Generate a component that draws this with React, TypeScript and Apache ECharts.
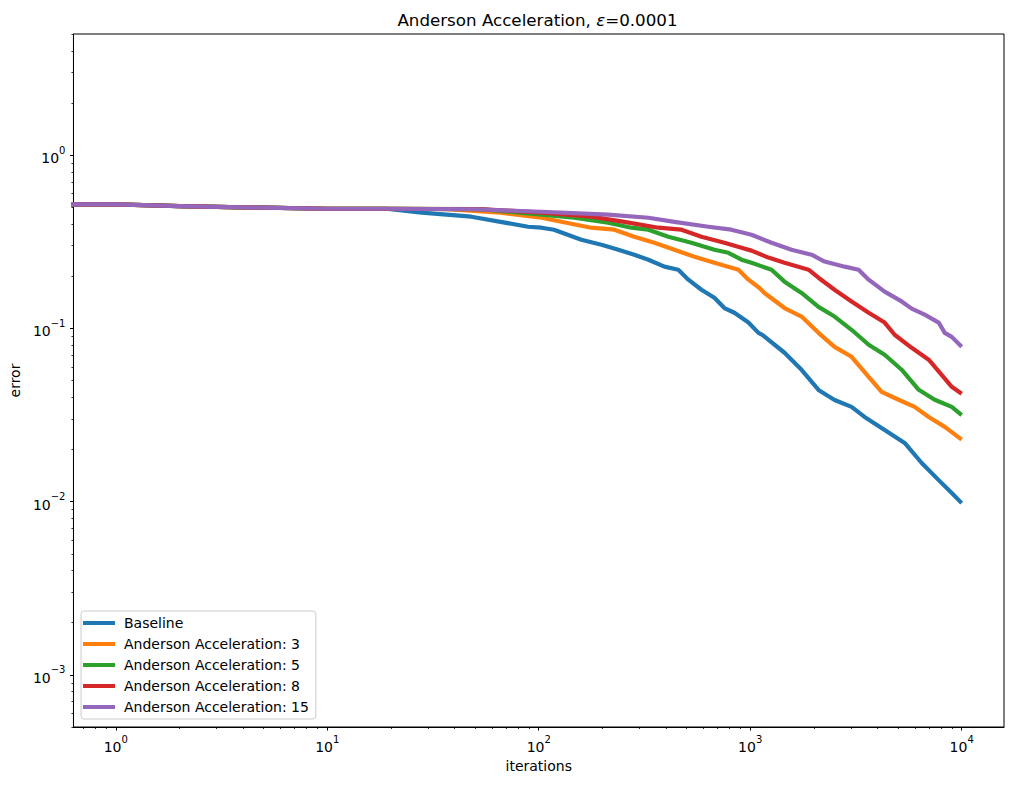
import React, { useEffect, useRef } from "react";
import * as echarts from "echarts";

// ---------- data ----------
const SERIES_NAMES = [
  "Baseline",
  "Anderson Acceleration: 3",
  "Anderson Acceleration: 5",
  "Anderson Acceleration: 8",
  "Anderson Acceleration: 15",
];
const COLORS = ["#1f77b4", "#ff7f0e", "#2ca02c", "#d62728", "#9467bd"];

const trunkIter = [0, 1, 2, 3, 5, 10, 19];
const trunkErr = [0.52, 0.52, 0.508, 0.503, 0.497, 0.49, 0.49];

const baselineIter = [...trunkIter, 28, 48, 66, 89, 103, 118, 159, 198, 238, 283, 330, 393, 457, 510, 588, 677, 755, 842, 981, 1094, 1141, 1453, 1749, 2103, 2505, 3014, 3473, 4321, 5375, 6468, 7784, 8974, 10000];
const baselineErr = [...trunkErr, 0.465, 0.441, 0.412, 0.386, 0.381, 0.371, 0.325, 0.304, 0.284, 0.266, 0.249, 0.227, 0.218, 0.191, 0.167, 0.15, 0.131, 0.123, 0.108, 0.0942, 0.0918, 0.0723, 0.0576, 0.0441, 0.0386, 0.0352, 0.0308, 0.0259, 0.0218, 0.0167, 0.0133, 0.0112, 0.0098];

const aa3Iter = [...trunkIter, 37, 66, 103, 128, 177, 228, 283, 352, 438, 545, 677, 880, 981, 1106, 1168, 1453, 1749, 2103, 2505, 3014, 3631, 4182, 5030, 5993, 6982, 8315, 10000];
const aa3Err = [...trunkErr, 0.488, 0.465, 0.435, 0.412, 0.381, 0.371, 0.338, 0.312, 0.284, 0.259, 0.239, 0.218, 0.191, 0.171, 0.16, 0.131, 0.117, 0.0942, 0.0782, 0.0685, 0.0525, 0.043, 0.0387, 0.0352, 0.0308, 0.027, 0.0228];

const aa5Iter = [...trunkIter, 53, 103, 147, 213, 274, 330, 410, 527, 677, 789, 909, 1014, 1261, 1453, 1749, 2103, 2505, 3014, 3631, 4321, 5200, 6266, 7449, 8974, 10000];
const aa5Err = [...trunkErr, 0.488, 0.453, 0.435, 0.407, 0.381, 0.371, 0.338, 0.312, 0.284, 0.273, 0.249, 0.239, 0.218, 0.186, 0.16, 0.133, 0.117, 0.0981, 0.0804, 0.0704, 0.0577, 0.0442, 0.0387, 0.0352, 0.0316];

const aa8Iter = [...trunkIter, 55, 103, 177, 254, 368, 473, 588, 755, 909, 1014, 1219, 1453, 1888, 2103, 2505, 3014, 3631, 4321, 4818, 5800, 6982, 8040, 8974, 10000];
const aa8Err = [...trunkErr, 0.487, 0.465, 0.441, 0.412, 0.381, 0.371, 0.338, 0.312, 0.292, 0.281, 0.256, 0.239, 0.218, 0.196, 0.167, 0.143, 0.123, 0.108, 0.0918, 0.0772, 0.0659, 0.0539, 0.046, 0.0419];

const aa15Iter = [...trunkIter, 50, 103, 213, 330, 438, 634, 814, 1014, 1261, 1567, 1950, 2248, 2797, 3255, 3631, 4321, 5200, 5800, 6683, 7784, 8315, 8974, 10000];
const aa15Err = [...trunkErr, 0.487, 0.471, 0.453, 0.435, 0.412, 0.386, 0.371, 0.347, 0.312, 0.284, 0.266, 0.243, 0.227, 0.218, 0.191, 0.163, 0.143, 0.13, 0.12, 0.108, 0.0942, 0.0893, 0.0782];

const SERIES_ITERS = [baselineIter, aa3Iter, aa5Iter, aa8Iter, aa15Iter];
const SERIES_ERRS = [baselineErr, aa3Err, aa5Err, aa8Err, aa15Err];

// axis limits (log10 space) and tick exponents
const X_LOG_MIN = -0.2;
const X_LOG_MAX = 4.2;
const Y_LOG_MIN = Math.log10(5e-4);
const Y_LOG_MAX = Math.log10(5);
const X_MAJOR_EXP = [0, 1, 2, 3, 4];
const Y_MAJOR_EXP = [-3, -2, -1, 0];
const MINOR_MULT = [2, 3, 4, 5, 6, 7, 8, 9];

const FONT = "DejaVu Sans";

function minorTicks(lo: number, hi: number): number[] {
  const out: number[] = [];
  for (let e = Math.floor(lo) - 1; e <= Math.ceil(hi); e++) {
    for (const m of MINOR_MULT) {
      const v = e + Math.log10(m);
      if (v >= lo - 1e-9 && v <= hi + 1e-9) out.push(v);
    }
  }
  return out;
}

// matplotlib's log scale clips non-positive x to a tiny positive value
function toLogX(it: number): number {
  return it > 0 ? Math.log10(it) : -3;
}

const expLabel = (v: number) => {
  const e = Math.round(v);
  const s = e < 0 ? "\u2212" + String(-e) : String(e);
  return `{b|10}{s|${s}}`;
};

const labelRich = {
  b: { fontSize: 14, fontFamily: FONT, color: "#000", lineHeight: 20, verticalAlign: "bottom" as const },
  s: { fontSize: 10, fontFamily: FONT, color: "#000", lineHeight: 10, verticalAlign: "top" as const },
};

export default function App() {
  const ref = useRef<HTMLDivElement>(null);

  useEffect(() => {
    if (!ref.current) return;
    const chart = echarts.init(ref.current, undefined, { renderer: "svg" });

    const series = SERIES_NAMES.map((name, i) => ({
      name,
      type: "line",
      xAxisIndex: 0,
      yAxisIndex: 0,
      showSymbol: false,
      symbol: "none",
      clip: true,
      lineStyle: { width: 4.2, color: COLORS[i], cap: "butt", join: "round" },
      itemStyle: { color: COLORS[i] },
      data: SERIES_ITERS[i].map((it, k) => [toLogX(it), Math.log10(SERIES_ERRS[i][k])]),
    }));

    const option: any = {
      animation: false,
      backgroundColor: "#fff",
      textStyle: { fontFamily: FONT },
      grid: {
        left: 71,
        right: 8,
        top: 34,
        bottom: 58,
        show: true,
        borderColor: "#000",
        borderWidth: 1,
        backgroundColor: "transparent",
      },
      graphic: [
        {
          type: "text",
          x: 537.5,
          y: 20,
          style: {
            text: "{a|Anderson Acceleration, }{e|\u03b5}{a|=0.0001}",
            align: "center",
            verticalAlign: "middle",
            rich: {
              a: { fontSize: 16.7, fontFamily: FONT, fill: "#000", color: "#000" },
              e: { fontSize: 16.7, fontFamily: FONT, fontStyle: "italic", fill: "#000", color: "#000" },
            },
          },
        },
      ],
      xAxis: [
        {
          type: "value",
          min: X_LOG_MIN,
          max: X_LOG_MAX,
          position: "bottom",
          name: "iterations",
          nameLocation: "middle",
          nameGap: 31,
          nameTextStyle: { fontSize: 14, fontFamily: FONT, color: "#000" },
          axisLine: { show: true, onZero: false, lineStyle: { color: "#000", width: 1 } },
          axisTick: { show: true, length: 3.5, customValues: X_MAJOR_EXP, lineStyle: { color: "#000", width: 1 } },
          axisLabel: { show: true, customValues: X_MAJOR_EXP, formatter: expLabel, rich: labelRich, margin: 7 },
          splitLine: { show: false },
        },
        {
          type: "value",
          min: X_LOG_MIN,
          max: X_LOG_MAX,
          position: "bottom",
          axisLine: { show: false, onZero: false },
          axisTick: { show: true, length: 2, customValues: minorTicks(X_LOG_MIN, X_LOG_MAX), lineStyle: { color: "#000", width: 0.8 } },
          axisLabel: { show: false },
          splitLine: { show: false },
        },
      ],
      yAxis: [
        {
          type: "value",
          min: Y_LOG_MIN,
          max: Y_LOG_MAX,
          position: "left",
          name: "error",
          nameLocation: "middle",
          nameGap: 48,
          nameTextStyle: { fontSize: 14, fontFamily: FONT, color: "#000" },
          axisLine: { show: true, onZero: false, lineStyle: { color: "#000", width: 1 } },
          axisTick: { show: true, length: 3.5, customValues: Y_MAJOR_EXP, lineStyle: { color: "#000", width: 1 } },
          axisLabel: { show: true, customValues: Y_MAJOR_EXP, formatter: expLabel, rich: labelRich, margin: 8 },
          splitLine: { show: false },
        },
        {
          type: "value",
          min: Y_LOG_MIN,
          max: Y_LOG_MAX,
          position: "left",
          axisLine: { show: false, onZero: false },
          axisTick: { show: true, length: 2, customValues: minorTicks(Y_LOG_MIN, Y_LOG_MAX), lineStyle: { color: "#000", width: 0.8 } },
          axisLabel: { show: false },
          splitLine: { show: false },
        },
      ],
      legend: {
        orient: "vertical",
        left: 81,
        top: 611,
        icon: "rect",
        itemWidth: 32,
        itemHeight: 4,
        itemGap: 5,
        padding: [4, 7, 4, 2],
        backgroundColor: "rgba(255,255,255,0.8)",
        borderColor: "#cccccc",
        borderWidth: 1,
        borderRadius: 3,
        textStyle: { fontSize: 14, fontFamily: FONT, color: "#000", lineHeight: 16, padding: [0, 0, 0, 4] },
        data: SERIES_NAMES,
      },
      series,
    };

    chart.setOption(option);
    return () => chart.dispose();
  }, []);

  return (
    <div
      ref={ref}
      style={{ position: "absolute", left: 0, top: 0, width: 1012, height: 785 }}
    />
  );
}
